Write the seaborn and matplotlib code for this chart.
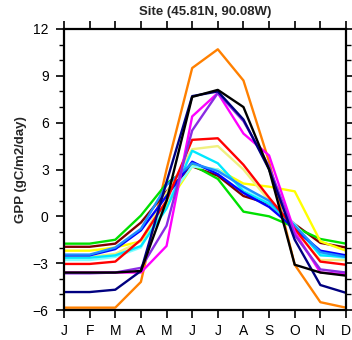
import numpy as np
import pandas as pd
import matplotlib
matplotlib.use("Agg")
import matplotlib.pyplot as plt
import seaborn as sns
from matplotlib.ticker import MultipleLocator

months = ["J", "F", "M", "A", "M", "J", "J", "A", "S", "O", "N", "D"]
title = "Site (45.81N, 90.08W)"
ylabel = "GPP (gC/m2/day)"

orange    = [-5.85, -5.85, -5.85, -4.2, 3.0, 9.5, 10.7, 8.7, 3.5, -3.1, -5.5, -5.85]
black     = [-3.6, -3.6, -3.6, -3.5, 1.0, 7.65, 8.1, 7.0, 3.0, -3.1, -3.6, -3.8]
navy      = [-4.85, -4.85, -4.7, -3.5, 2.2, 7.7, 8.0, 6.2, 3.0, -1.5, -4.4, -4.9]
magenta   = [-3.6, -3.6, -3.6, -3.6, -1.9, 6.4, 7.9, 5.3, 3.9, -1.0, -3.6, -3.7]
purple    = [-3.65, -3.65, -3.6, -3.3, -0.6, 5.5, 7.9, 6.1, 3.2, -1.2, -3.4, -3.6]
red       = [-3.05, -3.05, -2.9, -1.5, 1.0, 4.9, 5.0, 3.3, 1.2, -0.8, -2.9, -3.1]
khaki     = [-2.6, -2.6, -2.4, -1.6, 1.5, 4.3, 4.5, 3.0, 1.0, -0.9, -2.8, -2.8]
yellow    = [-2.2, -2.2, -2.0, -1.6, 0.7, 3.2, 3.0, 2.1, 1.9, 1.6, -1.6, -2.2]
cyan      = [-2.65, -2.65, -2.5, -1.9, 0.5, 4.2, 3.4, 1.6, 0.8, -0.6, -2.5, -2.6]
lightcyan = [-2.8, -2.8, -2.6, -2.0, 1.0, 3.2, 3.0, 1.8, 0.9, -0.5, -2.4, -2.7]
dodger    = [-2.45, -2.45, -2.0, -0.8, 2.0, 3.4, 2.9, 1.9, 1.0, -0.6, -2.3, -2.6]
blue      = [-2.5, -2.5, -2.1, -0.9, 1.3, 3.5, 2.7, 1.5, 0.6, -0.8, -2.2, -2.5]
green     = [-1.75, -1.75, -1.5, 0.05, 2.1, 3.3, 2.4, 0.3, 0.0, -0.7, -1.45, -1.75]
maroon    = [-1.95, -1.95, -1.75, -0.4, 1.6, 3.2, 2.6, 1.3, 0.8, -0.5, -1.7, -2.0]

series = {
    "orange": ("#ff8000", orange),
    "maroon": ("#800000", maroon),
    "green": ("#00e000", green),
    "yellow": ("#ffff00", yellow),
    "khaki": ("#f0f080", khaki),
    "lightcyan": ("#80ffff", lightcyan),
    "cyan": ("#00e8ff", cyan),
    "blue": ("#0000ff", blue),
    "dodger": ("#1e90ff", dodger),
    "red": ("#ff0000", red),
    "magenta": ("#ff00ff", magenta),
    "purple": ("#8a2be2", purple),
    "navy": ("#000080", navy),
    "black": ("#000000", black),
}

rows = []
for name, (col, vals) in series.items():
    for i, v in enumerate(vals):
        rows.append({"model": name, "month": i, "gpp": v})
df = pd.DataFrame(rows)
palette = {k: v[0] for k, v in series.items()}

sns.set_theme(style="white")
plt.rcParams['font.family'] = ['Liberation Sans', 'DejaVu Sans']

fig = plt.figure(figsize=(3.52, 3.40), dpi=100)
ax = fig.add_axes([64/352, 1 - 310/340, 282/352, 281/340])
sns.lineplot(data=df, x="month", y="gpp", hue="model", palette=palette,
             hue_order=list(series.keys()), linewidth=1.7, legend=False, ax=ax,
             estimator=None)

ax.set_xlim(0, 11)
ax.set_ylim(-6, 12)
ax.set_xticks(range(12))
ax.set_xticklabels(months)
ax.yaxis.set_major_locator(MultipleLocator(3))
ax.yaxis.set_minor_locator(MultipleLocator(1))
ax.tick_params(axis="both", which="both", direction="out", top=True, right=True,
               labelsize=10, colors="black")
ax.tick_params(axis="both", which="major", length=6, width=1.2)
ax.tick_params(axis="y", which="minor", length=3.5, width=1.0)
ax.tick_params(axis="y", which="both", left=True, right=True, pad=5)
ax.tick_params(axis="x", which="both", bottom=True, top=True, pad=4)
for s in ax.spines.values():
    s.set_linewidth(1.6)
    s.set_color("black")
ax.set_xlabel("")
ax.set_ylabel(ylabel, fontsize=9.5, fontweight="bold", labelpad=4)
ax.set_title(title, fontsize=9.5, fontweight="bold", pad=10)

fig.savefig("out.png", dpi=100)
